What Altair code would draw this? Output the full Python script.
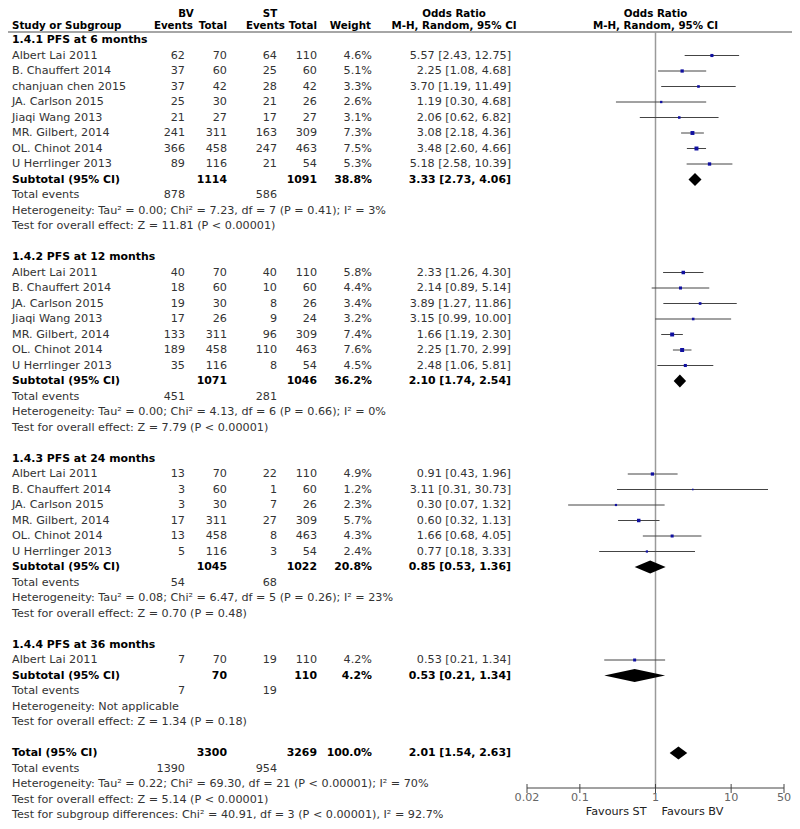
import altair as alt
import pandas as pd

FONT = "DejaVu Sans"
FS = 11.2     # regular text
FSB = 10.9    # bold text
FSH = 10.3    # header text

groups = ["1.4.1 PFS at 6 months", "1.4.2 PFS at 12 months",
          "1.4.3 PFS at 24 months", "1.4.4 PFS at 36 months"]

# ---- 1.4.1 PFS at 6 months
g1_names = ["Albert Lai 2011", "B. Chauffert 2014", "chanjuan chen 2015", "JA. Carlson 2015",
            "Jiaqi Wang 2013", "MR. Gilbert, 2014", "OL. Chinot 2014", "U Herrlinger 2013"]
g1_bv_events = [62, 37, 37, 25, 21, 241, 366, 89]
g1_bv_total = [70, 60, 42, 30, 27, 311, 458, 116]
g1_st_events = [64, 25, 28, 21, 17, 163, 247, 21]
g1_st_total = [110, 60, 42, 26, 27, 309, 463, 54]
g1_weight = [4.6, 5.1, 3.3, 2.6, 3.1, 7.3, 7.5, 5.3]
g1_or = [5.57, 2.25, 3.70, 1.19, 2.06, 3.08, 3.48, 5.18]
g1_lo = [2.43, 1.08, 1.19, 0.30, 0.62, 2.18, 2.60, 2.58]
g1_hi = [12.75, 4.68, 11.49, 4.68, 6.82, 4.36, 4.66, 10.39]

# ---- 1.4.2 PFS at 12 months
g2_names = ["Albert Lai 2011", "B. Chauffert 2014", "JA. Carlson 2015", "Jiaqi Wang 2013",
            "MR. Gilbert, 2014", "OL. Chinot 2014", "U Herrlinger 2013"]
g2_bv_events = [40, 18, 19, 17, 133, 189, 35]
g2_bv_total = [70, 60, 30, 26, 311, 458, 116]
g2_st_events = [40, 10, 8, 9, 96, 110, 8]
g2_st_total = [110, 60, 26, 24, 309, 463, 54]
g2_weight = [5.8, 4.4, 3.4, 3.2, 7.4, 7.6, 4.5]
g2_or = [2.33, 2.14, 3.89, 3.15, 1.66, 2.25, 2.48]
g2_lo = [1.26, 0.89, 1.27, 0.99, 1.19, 1.70, 1.06]
g2_hi = [4.30, 5.14, 11.86, 10.00, 2.30, 2.99, 5.81]

# ---- 1.4.3 PFS at 24 months
g3_names = ["Albert Lai 2011", "B. Chauffert 2014", "JA. Carlson 2015",
            "MR. Gilbert, 2014", "OL. Chinot 2014", "U Herrlinger 2013"]
g3_bv_events = [13, 3, 3, 17, 13, 5]
g3_bv_total = [70, 60, 30, 311, 458, 116]
g3_st_events = [22, 1, 7, 27, 8, 3]
g3_st_total = [110, 60, 26, 309, 463, 54]
g3_weight = [4.9, 1.2, 2.3, 5.7, 4.3, 2.4]
g3_or = [0.91, 3.11, 0.30, 0.60, 1.66, 0.77]
g3_lo = [0.43, 0.31, 0.07, 0.32, 0.68, 0.18]
g3_hi = [1.96, 30.73, 1.32, 1.13, 4.05, 3.33]

# ---- 1.4.4 PFS at 36 months
g4_names = ["Albert Lai 2011"]
g4_bv_events = [7]
g4_bv_total = [70]
g4_st_events = [19]
g4_st_total = [110]
g4_weight = [4.2]
g4_or = [0.53]
g4_lo = [0.21]
g4_hi = [1.34]

# ---- subgroup summaries
sub_bv_total = [1114, 1071, 1045, 70]
sub_st_total = [1091, 1046, 1022, 110]
sub_weight = [38.8, 36.2, 20.8, 4.2]
sub_or = [3.33, 2.10, 0.85, 0.53]
sub_lo = [2.73, 1.74, 0.53, 0.21]
sub_hi = [4.06, 2.54, 1.36, 1.34]
sub_bv_events = [878, 451, 54, 7]
sub_st_events = [586, 281, 68, 19]
sub_het = ["Heterogeneity: Tau² = 0.00; Chi² = 7.23, df = 7 (P = 0.41); I² = 3%",
           "Heterogeneity: Tau² = 0.00; Chi² = 4.13, df = 6 (P = 0.66); I² = 0%",
           "Heterogeneity: Tau² = 0.08; Chi² = 6.47, df = 5 (P = 0.26); I² = 23%",
           "Heterogeneity: Not applicable"]
sub_test = ["Test for overall effect: Z = 11.81 (P < 0.00001)",
            "Test for overall effect: Z = 7.79 (P < 0.00001)",
            "Test for overall effect: Z = 0.70 (P = 0.48)",
            "Test for overall effect: Z = 1.34 (P = 0.18)"]

# ---- overall
tot_bv_total, tot_st_total, tot_weight = 3300, 3269, 100.0
tot_or, tot_lo, tot_hi = 2.01, 1.54, 2.63
tot_bv_events, tot_st_events = 1390, 954
tot_het = "Heterogeneity: Tau² = 0.22; Chi² = 69.30, df = 21 (P < 0.00001); I² = 70%"
tot_test = "Test for overall effect: Z = 5.14 (P < 0.00001)"
tot_sub = "Test for subgroup differences: Chi² = 40.91, df = 3 (P < 0.00001), I² = 92.7%"

axis_ticks = [0.02, 0.1, 1, 10, 50]
axis_labels = ["0.02", "0.1", "1", "10", "50"]

studies_by_group = [
    (g1_names, g1_bv_events, g1_bv_total, g1_st_events, g1_st_total, g1_weight, g1_or, g1_lo, g1_hi),
    (g2_names, g2_bv_events, g2_bv_total, g2_st_events, g2_st_total, g2_weight, g2_or, g2_lo, g2_hi),
    (g3_names, g3_bv_events, g3_bv_total, g3_st_events, g3_st_total, g3_weight, g3_or, g3_lo, g3_hi),
    (g4_names, g4_bv_events, g4_bv_total, g4_st_events, g4_st_total, g4_weight, g4_or, g4_lo, g4_hi),
]

def fmt_or(o, lo, hi):
    return f"{o:.2f} [{lo:.2f}, {hi:.2f}]"

txt = []   # r, col, text, w
pts = []   # r, or, lo, hi, weight
dia = []   # gid, x, y, y2

def add(r, col, text, w="normal"):
    txt.append({"r": r, "col": col, "text": str(text), "w": w})

# headers (row -2 = top line, row -1 = second line)
add(-2, "h_bv", "BV", "bold")
add(-2, "h_st", "ST", "bold")
add(-2, "h_or", "Odds Ratio", "bold")
add(-2, "h_plot", "Odds Ratio", "bold")
add(-1, "study", "Study or Subgroup", "bold")
add(-1, "h_bve", "Events", "bold")
add(-1, "h_bvt", "Total", "bold")
add(-1, "h_ste", "Events", "bold")
add(-1, "h_stt", "Total", "bold")
add(-1, "h_w", "Weight", "bold")
add(-1, "h_or", "M-H, Random, 95% CI", "bold")
add(-1, "h_plot", "M-H, Random, 95% CI", "bold")

DH = 0.42  # diamond half-height in rows
r = 0
for gi, g in enumerate(groups):
    add(r, "study", g, "bold"); r += 1
    names, be, bt, se, st, wt, o, lo, hi = studies_by_group[gi]
    for i in range(len(names)):
        add(r, "study", names[i]); add(r, "bve", be[i]); add(r, "bvt", bt[i])
        add(r, "ste", se[i]); add(r, "stt", st[i]); add(r, "w", f"{wt[i]:.1f}%")
        add(r, "or", fmt_or(o[i], lo[i], hi[i]))
        pts.append({"r": r, "or": o[i], "lo": lo[i], "hi": hi[i], "weight": wt[i]})
        r += 1
    add(r, "study", "Subtotal (95% CI)", "bold"); add(r, "bvt", sub_bv_total[gi], "bold")
    add(r, "stt", sub_st_total[gi], "bold"); add(r, "w", f"{sub_weight[gi]:.1f}%", "bold")
    add(r, "or", fmt_or(sub_or[gi], sub_lo[gi], sub_hi[gi]), "bold")
    dia += [{"gid": gi, "x": sub_lo[gi], "y": r, "y2": r},
            {"gid": gi, "x": sub_or[gi], "y": r - DH, "y2": r + DH},
            {"gid": gi, "x": sub_hi[gi], "y": r, "y2": r}]
    r += 1
    add(r, "study", "Total events"); add(r, "bve", sub_bv_events[gi]); add(r, "ste", sub_st_events[gi]); r += 1
    add(r, "study", sub_het[gi]); r += 1
    add(r, "study", sub_test[gi]); r += 1
    r += 1

add(r, "study", "Total (95% CI)", "bold"); add(r, "bvt", tot_bv_total, "bold")
add(r, "stt", tot_st_total, "bold"); add(r, "w", f"{tot_weight:.1f}%", "bold")
add(r, "or", fmt_or(tot_or, tot_lo, tot_hi), "bold")
dia += [{"gid": 9, "x": tot_lo, "y": r, "y2": r},
        {"gid": 9, "x": tot_or, "y": r - DH, "y2": r + DH},
        {"gid": 9, "x": tot_hi, "y": r, "y2": r}]
r += 1
add(r, "study", "Total events"); add(r, "bve", tot_bv_events); add(r, "ste", tot_st_events); r += 1
add(r, "study", tot_het); r += 1
add(r, "study", tot_test); r += 1
add(r, "study", tot_sub); r += 1

txt_df = pd.DataFrame(txt)
pts_df = pd.DataFrame(pts)
dia_df = pd.DataFrame(dia)
ticks_df = pd.DataFrame({"t": axis_ticks, "label": axis_labels})
axis_df = pd.DataFrame({"a": [min(axis_ticks)], "b": [max(axis_ticks)]})
ref_df = pd.DataFrame({"v": [1]})
fav_df = pd.DataFrame({"v": [1], "left": ["Favours ST"], "right": ["Favours BV"]})

W, H = 784, 813
LINE_Y = 24
xscale = alt.Scale(type="log", domain=[min(axis_ticks), max(axis_ticks)], range=[519, 776])
yscale = alt.Scale(domain=[0, 50], range=[32, 807])
Y = alt.Y("r:Q", scale=yscale, axis=None)
HEADER_Y = {-2: 5.5, -1: 18}

# column placements: (x pixel, align)
cols = {
    "study": (4, "left"), "bve": (177, "right"), "bvt": (219, "right"),
    "ste": (269, "right"), "stt": (309, "right"), "w": (364, "right"),
    "or": (503, "right"),
    "h_bv": (178, "center"), "h_st": (262, "center"),
    "h_bve": (185, "right"), "h_bvt": (219, "right"), "h_ste": (277, "right"),
    "h_stt": (309, "right"), "h_w": (363, "right"), "h_or": (446, "center"),
}

layers = []
# header separator
layers.append(alt.Chart(ref_df).mark_rule(color="#888888", strokeWidth=1.5).encode(
    x=alt.value(0), x2=alt.value(W), y=alt.value(LINE_Y)))
# reference line at 1
layers.append(alt.Chart(ref_df).mark_rule(color="#9a9a9a", strokeWidth=1.5).encode(
    x=alt.X("v:Q", scale=xscale, axis=None), y=alt.value(LINE_Y), y2=alt.value(780)))
# CI lines
layers.append(alt.Chart(pts_df).mark_rule(color="#444444", strokeWidth=1).encode(
    x=alt.X("lo:Q", scale=xscale, axis=None), x2="hi:Q", y=Y))
# squares
layers.append(alt.Chart(pts_df).mark_square(color="#1010a0", opacity=1).encode(
    x=alt.X("or:Q", scale=xscale, axis=None), y=Y,
    size=alt.Size("weight:Q", scale=alt.Scale(domain=[0, 7.6], range=[0, 16]), legend=None)))
# diamonds
layers.append(alt.Chart(dia_df).mark_area(color="black", orient="vertical", opacity=1).encode(
    x=alt.X("x:Q", scale=xscale, axis=None),
    y=alt.Y("y:Q", scale=yscale, axis=None), y2="y2:Q", detail="gid:N"))
# axis
layers.append(alt.Chart(axis_df).mark_rule(color="#444444", strokeWidth=1).encode(
    x=alt.X("a:Q", scale=xscale, axis=None), x2="b:Q", y=alt.value(780)))
layers.append(alt.Chart(ticks_df).mark_rule(color="#444444", strokeWidth=1).encode(
    x=alt.X("t:Q", scale=xscale, axis=None), y=alt.value(776), y2=alt.value(785)))
layers.append(alt.Chart(ticks_df).mark_text(font=FONT, fontSize=FS, color="#666666",
                                            baseline="middle", align="center").encode(
    x=alt.X("t:Q", scale=xscale, axis=None), y=alt.value(790), text="label:N"))
layers.append(alt.Chart(fav_df).mark_text(font=FONT, fontSize=FS, color="#222222",
                                          baseline="middle", align="right", dx=-9).encode(
    x=alt.X("v:Q", scale=xscale, axis=None), y=alt.value(804), text="left:N"))
layers.append(alt.Chart(fav_df).mark_text(font=FONT, fontSize=FS, color="#222222",
                                          baseline="middle", align="left", dx=6).encode(
    x=alt.X("v:Q", scale=xscale, axis=None), y=alt.value(804), text="right:N"))

body = txt_df[txt_df.r >= 0]
head = txt_df[txt_df.r < 0]

# text columns (body rows)
for col, (xp, al) in cols.items():
    for w in ["normal", "bold"]:
        sub = body[(body.col == col) & (body.w == w)]
        if len(sub) == 0:
            continue
        layers.append(alt.Chart(sub).mark_text(
            font=FONT, fontSize=FSB if w == "bold" else FS, fontWeight=w, align=al, baseline="middle",
            color="#000000" if w == "bold" else "#333333").encode(
            x=alt.value(xp), y=Y, text="text:N"))

# header rows
for hr, hy in HEADER_Y.items():
    for col, (xp, al) in cols.items():
        sub = head[(head.col == col) & (head.r == hr)]
        if len(sub) == 0:
            continue
        layers.append(alt.Chart(sub).mark_text(
            font=FONT, fontSize=FSH, fontWeight="bold", align=al, baseline="middle",
            color="#000000").encode(x=alt.value(xp), y=alt.value(hy), text="text:N"))
    sub = head[(head.col == "h_plot") & (head.r == hr)].assign(v=1)
    layers.append(alt.Chart(sub).mark_text(
        font=FONT, fontSize=FSH, fontWeight="bold", align="center", baseline="middle",
        color="#000000").encode(x=alt.X("v:Q", scale=xscale, axis=None), y=alt.value(hy),
                                text="text:N"))

chart = alt.layer(*layers).properties(
    width=W, height=H, padding=0,
    autosize=alt.AutoSizeParams(type="none"),
).configure_view(stroke=None)

chart.save("out.html", embed_options={"renderer": "svg", "actions": False})
